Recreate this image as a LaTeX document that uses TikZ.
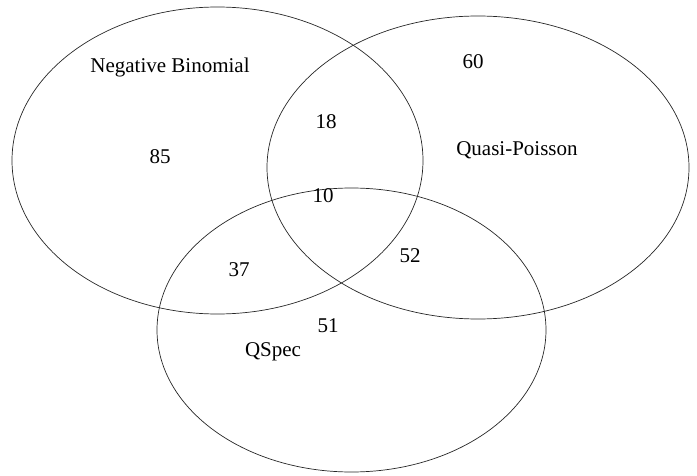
\documentclass[tikz,border=0pt]{standalone}
\usepackage{fontspec}
\setmainfont{Liberation Serif}
\usetikzlibrary{shapes.geometric}
\tikzset{
  setoval/.style={ellipse, draw=black!85, line width=0.7pt, inner sep=0pt},
  lbl/.style={font=\fontsize{21}{24}\selectfont, inner sep=0pt, anchor=center}
}
\begin{document}
\begin{tikzpicture}[x=1pt,y=-1pt]
\useasboundingbox (0,0) rectangle (697,476);
\node[setoval, minimum width=411pt, minimum height=307pt] (nb) at (217.5,160.5) {};
\node[setoval, minimum width=422pt, minimum height=303pt] (qp) at (478,167.5) {};
\node[setoval, minimum width=389pt, minimum height=284pt] (qs) at (351.5,330) {};
\node[lbl] (nbt) at (170,67) {Negative Binomial};
\node[lbl] (qpt) at (517,150) {Quasi-Poisson};
\node[lbl] (qst) at (273,352) {QSpec};
\node[lbl] (n60) at (473,62) {60};
\node[lbl] (n18) at (326,122) {18};
\node[lbl] (n85) at (160,157) {85};
\node[lbl] (n10) at (323,196) {10};
\node[lbl] (n52) at (410,256) {52};
\node[lbl] (n37) at (239,270) {37};
\node[lbl] (n51) at (328,326) {51};
\end{tikzpicture}
\end{document}
